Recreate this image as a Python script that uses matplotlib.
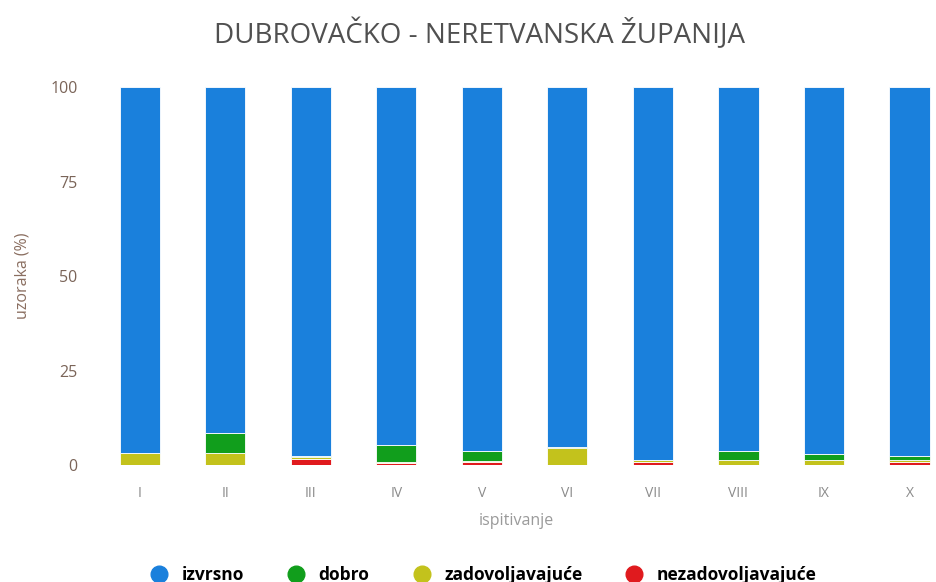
import numpy as np
import matplotlib.pyplot as plt
from matplotlib.lines import Line2D

plt.rcParams["font.family"] = ["Open Sans", "DejaVu Sans"]

# %%
## Data ##

categories = ["I", "II", "III", "IV", "V", "VI", "VII", "VIII", "IX", "X"]
dobro = [0.0, 5.3, 0.3, 4.5, 2.7, 0.2, 0.0, 2.3, 1.6, 1.3]
zadovoljavajuce = [3.2, 3.2, 0.5, 0.3, 0.3, 4.5, 0.5, 1.3, 1.2, 0.5]
nezadovoljavajuce = [0.0, 0.0, 1.5, 0.5, 0.7, 0.0, 0.7, 0.0, 0.0, 0.7]
izvrsno = [100 - d - z - n for d, z, n in zip(dobro, zadovoljavajuce, nezadovoljavajuce)]

series_names = ["izvrsno", "dobro", "zadovoljavajuće", "nezadovoljavajuće"]
colors = ["#1a80dc", "#119e1c", "#c3c21c", "#e01a1e"]

# %%
## Plot ##

fig = plt.figure(figsize=(9.36, 5.82), dpi=100)
ax = fig.add_axes([0.1036, 0.201, 0.8964, 0.6495])

x = np.arange(len(categories))
width = 0.47

# stack from bottom: nezadovoljavajuce, zadovoljavajuce, dobro, izvrsno
bottom = np.zeros(len(categories))
stack = [
    (nezadovoljavajuce, colors[3]),
    (zadovoljavajuce, colors[2]),
    (dobro, colors[1]),
    (izvrsno, colors[0]),
]
for vals, col in stack:
    ax.bar(x, vals, width, bottom=bottom, color=col, edgecolor="white", linewidth=0.6)
    bottom += np.array(vals)

ax.set_ylim(0, 100)
ax.set_xlim(-0.5, 9.31)
ax.set_yticks([0, 25, 50, 75, 100])
ax.set_xticks(x)
ax.set_xticklabels(categories)
for s in ax.spines.values():
    s.set_visible(False)
ax.tick_params(axis="both", length=0)
ax.tick_params(axis="y", colors="#7a6458", labelsize=11.5, pad=14)
ax.tick_params(axis="x", colors="#8a8a8a", labelsize=10, pad=15)

ax.set_ylabel("uzoraka (%)", color="#8a6e60", fontsize=11.5, labelpad=14)
ax.set_xlabel("ispitivanje", color="#9a9a9a", fontsize=11.5, labelpad=9)

fig.text(0.512, 0.94, "DUBROVAČKO - NERETVANSKA ŽUPANIJA", ha="center", va="center",
         fontsize=20, color="#505050")

handles = [Line2D([0], [0], marker="o", linestyle="", markersize=12, color=c) for c in colors]
fig.legend(handles, series_names, loc="lower center", bbox_to_anchor=(0.512, -0.03), ncol=4,
           frameon=False, columnspacing=2.0, handletextpad=0.3,
           prop={"family": ["Open Sans", "DejaVu Sans"], "weight": "bold", "size": 12.5})

fig.savefig("out.png", dpi=100)
